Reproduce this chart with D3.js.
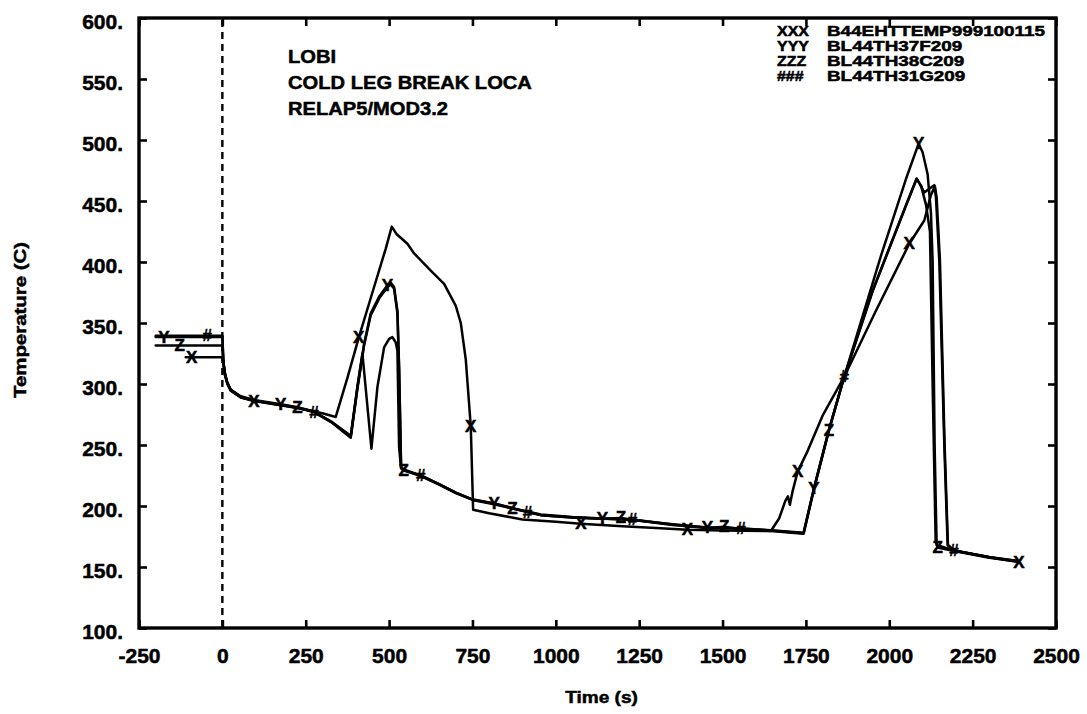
<!DOCTYPE html>
<html>
<head>
<meta charset="utf-8">
<script src="https://cdn.jsdelivr.net/npm/d3@7/dist/d3.min.js"></script>
<style>
  html, body { margin: 0; padding: 0; background: #fff; }
  svg { display: block; }
  text {
    font-family: "Liberation Sans", Arial, Helvetica, sans-serif;
    font-weight: bold; fill: #000; stroke: #000; stroke-width: 0.5px;
  }
</style>
</head>
<body>
<svg id="chart" width="1087" height="714"></svg>
<script>
// ---- Axis ticks -------------------------------------------------------
const xTicks = [-250, 0, 250, 500, 750, 1000, 1250, 1500, 1750, 2000, 2250, 2500];
const yTicks = [100, 150, 200, 250, 300, 350, 400, 450, 500, 550, 600];

// ---- Annotation and legend text ---------------------------------------
const titleLines = ["LOBI", "COLD LEG BREAK LOCA", "RELAP5/MOD3.2"];
const seriesNames = ["B44EHTTEMP999100115", "BL44TH37F209", "BL44TH38C209", "BL44TH31G209"];
const seriesSymbols = ["X", "Y", "Z", "#"];

// ---- Temperature histories: [time (s), temperature (C)] ---------------
const seriesXXX = [
  [-110,322],[0,322],[3,317],[8,307],[15,300],[25,294.5],[55,289],[95,286],[175,282.5],
  [250,279],[300,276],[340,273],[375,305],[409,338],[450,375],[490,411],[508,429],
  [522,423],[555,415],[575,407],[625,393],[665,382],[700,364],[715,350],[730,320],
  [745,265],[752,197],[800,194],[900,189],[1000,187],[1075,185.5],[1200,183.5],
  [1300,182],[1395,180.5],[1500,180],[1645,179.5],[1670,190],[1688,204],[1696,208],
  [1702,201],[1710,212],[1725,228],[1755,245],[1800,274],[1865,306],[1960,360],
  [2060,415],[2105,434],[2125,455],[2137,462],[2142,453],[2152,401],[2166,250],
  [2176,168],[2194,163.5],[2300,158],[2389,154]
];
const seriesYYY = [
  [-200,338.5],[0,338.5],[3,318],[8,308],[15,301],[25,295.5],[55,290],[95,287],
  [175,283.5],[225,281],[275,277.5],[330,268.5],[385,257],[405,297],[425,333],
  [445,358],[470,371.5],[495,381],[505,383],[515,379.5],[525,360],[530,314],[536,232],
  [544,230],[595,225],[650,218],[700,211],[750,205.5],[815,202],[870,198],[915,195.5],
  [955,193],[1050,191],[1140,189.7],[1230,188.5],[1350,185],[1455,182.3],[1555,181.5],
  [1645,180],[1743,177.6],[1774,214],[1819,262],[1865,306],[1975,405],[2050,468],
  [2088,497],[2100,490],[2115,472],[2125,440],[2130,401],[2136,250],[2142,168],
  [2194,163.5],[2300,158],[2385,155]
];
const seriesZZZ = [
  [-200,331.5],[0,331.5],[3,317],[8,307.5],[15,300.5],[25,295],[55,289.5],[95,286.5],
  [175,283],[225,280.5],[275,277],[330,268],[385,256],[405,296],[425,331.5],[445,356.5],
  [470,370],[495,379.5],[505,381.5],[515,378],[525,358],[530,312],[536,231],[544,229.5],
  [595,224.5],[650,217.5],[700,210.5],[750,205],[815,201.5],[870,198],[915,195],
  [955,192.5],[1050,190.5],[1140,189.5],[1195,190.2],[1230,188.8],[1350,184.5],
  [1455,182],[1505,183],[1555,181.2],[1645,179.5],[1743,177.2],[1774,213.5],[1819,262],
  [1865,306],[1950,376],[2050,446],[2082,468],[2095,463],[2110,447],[2122,425],
  [2130,300],[2139,172],[2145,166],[2194,163],[2300,157.6],[2385,154.6]
];
const seriesHHH = [
  [-200,339.5],[0,339.5],[3,318.5],[8,308.5],[15,301],[25,295],[55,289.2],[95,286.2],
  [175,282.8],[225,280.8],[275,277],[330,268.5],[385,257.5],[405,298],[420,325],
  [447,247],[465,297.5],[485,330],[500,337],[510,338.5],[520,334],[525,327],[530,248],
  [536,231],[544,229],[595,225],[650,218],[700,211],[750,205.2],[815,202],[870,198.5],
  [915,195],[955,192.5],[1050,190.5],[1140,189.5],[1230,188.9],[1350,184.8],
  [1455,182.2],[1555,181.5],[1645,180.2],[1743,178],[1774,214.5],[1819,262.5],
  [1865,306],[1950,376.5],[2050,446.5],[2082,468.5],[2105,457],[2120,460],[2135,463],
  [2140,453],[2150,401],[2165,250],[2175,168],[2194,163.5],[2300,158.2],[2385,155]
];

// ---- Times at which each curve carries its identifying symbol ----------
const marksXXX = [-92, 95, 409, 745, 1075, 1395, 1725, 2060, 2389];
const marksYYY = [-175, 175, 495, 815, 1140, 1455, 1774, 2088];
const marksZZZ = [-128, 225, 544, 870, 1195, 1505, 1819, 2145];
const marksHHH = [-45, 275, 595, 915, 1230, 1555, 1865, 2194];

// ---- Layout -----------------------------------------------------------
const svg = d3.select("#chart");
const plot = { left: 139, right: 1056, top: 18, bottom: 628 };

const x = d3.scaleLinear().domain([-250, 2500]).range([plot.left, plot.right]);
const y = d3.scaleLinear().domain([100, 600]).range([plot.bottom, plot.top]);

// stretch a text element horizontally by factor k
function widen(sel, k) {
  sel.each(function () {
    const w = this.getComputedTextLength();
    this.setAttribute("textLength", (w * k).toFixed(1));
    this.setAttribute("lengthAdjust", "spacingAndGlyphs");
  });
}

// ---- Axes (ticks point inward) ----------------------------------------
const tickLen = 8;
const gx = svg.append("g").attr("transform", `translate(0,${plot.bottom})`)
  .call(d3.axisBottom(x).tickValues(xTicks).tickSizeInner(-tickLen).tickSizeOuter(0)
    .tickPadding(20).tickFormat(d => String(d)));
const gxTop = svg.append("g").attr("transform", `translate(0,${plot.top})`)
  .call(d3.axisTop(x).tickValues(xTicks).tickSizeInner(-tickLen).tickSizeOuter(0).tickFormat(""));
const gy = svg.append("g").attr("transform", `translate(${plot.left},0)`)
  .call(d3.axisLeft(y).tickValues(yTicks).tickSizeInner(-tickLen).tickSizeOuter(0)
    .tickPadding(16).tickFormat(d => d + "."));
const gyRight = svg.append("g").attr("transform", `translate(${plot.right},0)`)
  .call(d3.axisRight(y).tickValues(yTicks).tickSizeInner(-tickLen).tickSizeOuter(0).tickFormat(""));

[gx, gxTop, gy, gyRight].forEach(g => {
  g.select(".domain").remove();
  g.selectAll(".tick line").attr("stroke", "#000").attr("stroke-width", 2.6);
  g.selectAll(".tick text")
    .attr("font-family", null).attr("font-size", null).attr("fill", null)
    .style("font-size", "21px");
});
gy.selectAll(".tick text").attr("dy", "0.5em");

// plot frame
svg.append("rect")
  .attr("x", plot.left).attr("y", plot.top)
  .attr("width", plot.right - plot.left).attr("height", plot.bottom - plot.top)
  .attr("fill", "none").attr("stroke", "#000").attr("stroke-width", 3.4);

// dashed line marking the break at t = 0
svg.append("line")
  .attr("x1", x(0)).attr("x2", x(0))
  .attr("y1", plot.top + 2).attr("y2", plot.bottom)
  .attr("stroke", "#000").attr("stroke-width", 2.4)
  .attr("stroke-dasharray", "7,5");

// ---- Curves -----------------------------------------------------------
const allSeries = [seriesXXX, seriesYYY, seriesZZZ, seriesHHH];
const allMarks = [marksXXX, marksYYY, marksZZZ, marksHHH];

const line = d3.line().x(d => x(d[0])).y(d => y(d[1]));
const bis = d3.bisector(d => d[0]).left;
function valueAt(series, t) {
  const i = Math.max(1, Math.min(series.length - 1, bis(series, t)));
  const a = series[i - 1], b = series[i];
  return a[1] + (b[1] - a[1]) * (t - a[0]) / (b[0] - a[0]);
}

const curves = svg.append("g");
allSeries.forEach(s => {
  curves.append("path")
    .attr("d", line(s))
    .attr("fill", "none")
    .attr("stroke", "#000")
    .attr("stroke-width", 2.5)
    .attr("stroke-linejoin", "round")
    .attr("stroke-linecap", "round");
});

const marks = svg.append("g");
allMarks.forEach((times, k) => {
  marks.selectAll(null)
    .data(times)
    .join("text")
    .attr("x", t => x(t))
    .attr("y", t => y(valueAt(allSeries[k], t)))
    .attr("text-anchor", "middle")
    .attr("dominant-baseline", "central")
    .style("font-size", "17px")
    .text(seriesSymbols[k]);
});

// ---- Run description --------------------------------------------------
const title = svg.append("g");
title.selectAll("text")
  .data(titleLines)
  .join("text")
  .attr("x", 288)
  .attr("y", (d, i) => 63 + i * 25.8)
  .style("font-size", "19px")
  .text(d => d)
  .call(widen, 1.06);

// ---- Legend -----------------------------------------------------------
const legend = svg.append("g");
seriesNames.forEach((name, i) => {
  const yy = 35.5 + i * 15.2;
  legend.append("text")
    .attr("x", 777).attr("y", yy)
    .style("font-size", "14.5px")
    .text(seriesSymbols[i].repeat(3))
    .call(widen, 1.1);
  legend.append("text")
    .attr("x", 827).attr("y", yy)
    .style("font-size", "14.5px")
    .text(name)
    .call(widen, 1.3);
});

// ---- Axis titles ------------------------------------------------------
svg.append("text")
  .attr("x", (plot.left + plot.right) / 2 + 4)
  .attr("y", 703)
  .attr("text-anchor", "middle")
  .style("font-size", "17px")
  .text("Time (s)")
  .call(widen, 1.12);

svg.append("text")
  .attr("transform", `translate(26,${(plot.top + plot.bottom) / 2 - 3}) rotate(-90)`)
  .attr("text-anchor", "middle")
  .style("font-size", "17px")
  .text("Temperature (C)")
  .call(widen, 1.2);
</script>
</body>
</html>
